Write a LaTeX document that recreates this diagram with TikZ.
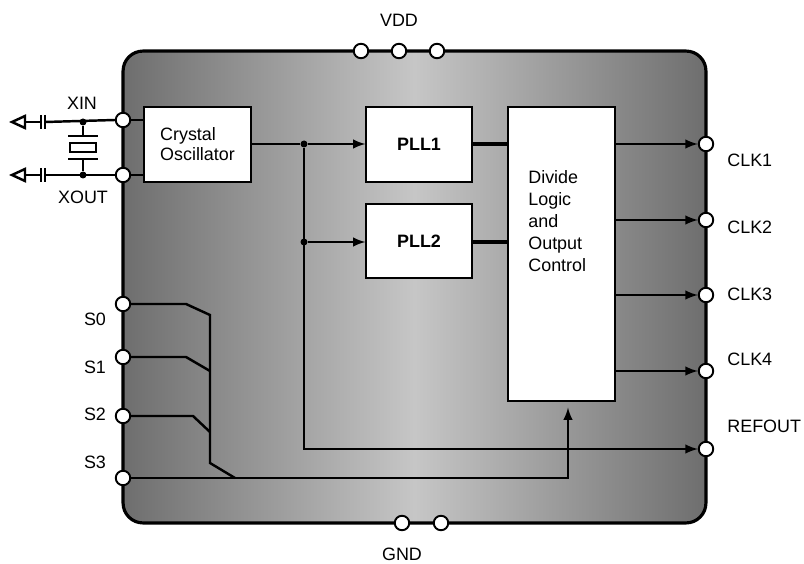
\documentclass[tikz,border=0pt]{standalone}
\usepackage{fontspec}
\setmainfont{Liberation Sans}
\usetikzlibrary{arrows, positioning}
\definecolor{cdark}{HTML}{6E6E6E}
\definecolor{clight}{HTML}{C6C6C6}
\tikzstyle{chipbody} = [rectangle, rounded corners=0.4cm, draw, line width=1.8pt, left color=cdark, right color=cdark, middle color=clight, minimum width=11.66cm, minimum height=9.44cm]
\tikzstyle{block} = [rectangle, draw, fill=white, line width=0.7pt, inner sep=0pt, align=left, font=\fontsize{10.2}{11.3}\selectfont]
\tikzstyle{pin} = [circle, draw, fill=white, line width=1.1pt, minimum size=0.29cm, inner sep=0pt]
\tikzstyle{lbl} = [font=\fontsize{10.2}{12}\selectfont, inner sep=0pt]
\tikzstyle{wire} = [line width=1.4pt]
\tikzstyle{sig} = [line width=1.4pt, ->, >=latex]
\tikzstyle{bus} = [line width=2.4pt]
\tikzstyle{junc} = [circle, fill, inner sep=0pt, minimum size=0.14cm]

\begin{document}
\begin{tikzpicture}[x=0.02cm, y=-0.02cm]
  \useasboundingbox (0,0) rectangle (804,564);
  \node (chip) [chipbody] at (414.5,287) {};
  % blocks
  \node (osc) [block, minimum width=2.14cm, minimum height=1.5cm] at (197.5,144.5) {Crystal\\Oscillator};
  \node (pll1) [block, minimum width=2.12cm, minimum height=1.5cm, font=\fontsize{10.2}{12}\selectfont\bfseries] at (419,144.5) {PLL1};
  \node (pll2) [block, minimum width=2.12cm, minimum height=1.48cm, font=\fontsize{10.2}{12}\selectfont\bfseries] at (419,241) {PLL2};
  \node (divide) [block, minimum width=2.14cm, minimum height=5.88cm] at (561.5,254) {};
  \node (divtxt) [lbl, anchor=north west, align=left, font=\fontsize{10.2}{12.5}\selectfont] at (528,170) {Divide\\Logic\\and\\Output\\Control};
  % pins
  \node (xin) [pin] at (123,120) {};
  \node (xout) [pin] at (123,175) {};
  \node (s0) [pin] at (123,304) {};
  \node (s1) [pin] at (123,357) {};
  \node (s2) [pin] at (123,416) {};
  \node (s3) [pin] at (123,478) {};
  \node (vdd1) [pin] at (361,51) {};
  \node (vdd2) [pin] at (399,51) {};
  \node (vdd3) [pin] at (437,51) {};
  \node (gnd1) [pin] at (402,523) {};
  \node (gnd2) [pin] at (441,523) {};
  \node (clk1) [pin] at (706,144) {};
  \node (clk2) [pin] at (706,220) {};
  \node (clk3) [pin] at (706,295) {};
  \node (clk4) [pin] at (706,371) {};
  \node (refout) [pin] at (706,449) {};
  % labels
  \node [lbl] at (399,20) {VDD};
  \node [lbl] at (402,554) {GND};
  \node [lbl] at (82,103) {XIN};
  \node [lbl] at (83,197) {XOUT};
  \node [lbl] at (95,319) {S0};
  \node [lbl] at (95,367) {S1};
  \node [lbl] at (95,414) {S2};
  \node [lbl] at (95,462) {S3};
  \node [lbl, anchor=west] at (727,160) {CLK1};
  \node [lbl, anchor=west] at (727,227) {CLK2};
  \node [lbl, anchor=west] at (727,294) {CLK3};
  \node [lbl, anchor=west] at (727,359) {CLK4};
  \node [lbl, anchor=west] at (727,426) {REFOUT};
  % crystal and load capacitors
  \node (jin) [junc] at (83,122) {};
  \node (jout) [junc] at (83,175) {};
  \draw [wire] (xin) -- (osc.west |- xin);
  \draw [wire] (xout) -- (osc.west |- xout);
  \draw [wire] (xin.west) -- (45,122);
  \draw [wire] (xout.west) -- (45,175);
  \foreach \y in {122,175} {
    \draw [wire] (45,\y-7) -- (45,\y+7);
    \draw [wire] (41,\y-7) -- (41,\y+7);
    \draw [wire] (41,\y) -- (25,\y);
    \draw [wire, fill=white] (25,\y-6) -- (12,\y) -- (25,\y+6) -- cycle;
  }
  \draw [wire] (jin) -- (83,136);
  \draw [wire] (68,136) -- (98,136);
  \draw [wire] (70,143) rectangle (96,152);
  \draw [wire] (68,159) -- (98,159);
  \draw [wire] (83,159) -- (jout);
  % clock path
  \node (j1) [junc] at (304,144) {};
  \node (j2) [junc] at (304,242) {};
  \draw [wire] (osc.east |- j1) -- (j1);
  \draw [sig] (j1) -- (pll1.west |- j1);
  \draw [sig] (j2) -- (pll2.west |- j2);
  \draw [sig] (j1) -- (304,449) -- (refout);
  \draw [bus] (pll1.east |- j1) -- (divide.west |- j1);
  \draw [bus] (pll2.east |- j2) -- (divide.west |- j2);
  \draw [sig] (divide.east |- clk1) -- (clk1);
  \draw [sig] (divide.east |- clk2) -- (clk2);
  \draw [sig] (divide.east |- clk3) -- (clk3);
  \draw [sig] (divide.east |- clk4) -- (clk4);
  % select lines
  \coordinate (selin) at (568,478);
  \draw [wire] (s0) -- (186,304) -- (210,315) -- (210,463) -- (235,478);
  \draw [wire] (s1) -- (186,357) -- (210,371);
  \draw [wire] (s2) -- (193,416) -- (210,432);
  \draw [sig, shorten >=3.4pt] (s3) -- (selin) -- (selin |- divide.south);
\end{tikzpicture}
\end{document}
